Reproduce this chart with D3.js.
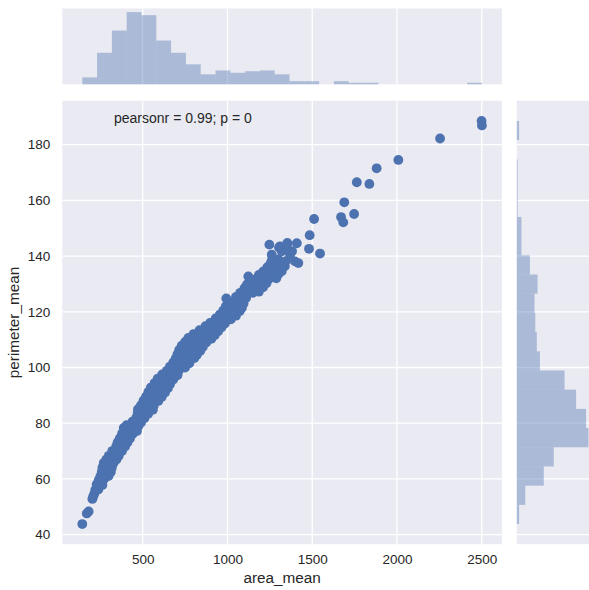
<!DOCTYPE html>
<html>
<head>
<meta charset="utf-8">
<script src="https://cdn.jsdelivr.net/npm/d3@7"></script>
<style>
  html, body { margin: 0; padding: 0; background: #ffffff; }
  svg { display: block; font-family: "Liberation Sans", Arial, Helvetica, sans-serif; }
</style>
</head>
<body>
<svg id="chart" width="589" height="590"></svg>
<script>
// Tumour measurements: mean area vs mean perimeter
const areaMean = [
  143.5, 170, 181, 203, 208, 214,
  220, 238, 228, 255, 262, 240, 270,
  250, 275, 298, 258, 285, 312,
  262, 290, 318, 270, 300, 328,
  285, 315, 345, 300, 330, 358,
  320, 350, 378, 344, 370, 396,
  352, 380, 410, 365, 395, 425,
  378, 405, 440, 388, 420, 455, 466,
  405, 440, 475, 440, 465, 490,
  462, 485, 510, 470, 500, 532,
  472, 505, 540, 560, 490, 525, 565,
  505, 540, 575, 592, 520, 555, 590, 612,
  533, 565, 600, 632, 548, 585, 620, 648,
  570, 605, 640, 661, 588, 620, 655, 680,
  615, 648, 685, 705, 642, 675, 712,
  660, 695, 730, 750, 680, 715, 752, 775,
  695, 730, 770, 805, 705, 740, 780, 820,
  715, 755, 795, 840, 730, 770, 810, 855,
  750, 785, 830, 875, 769, 810, 850, 905,
  800, 845, 885, 925, 835, 875, 915, 945,
  870, 905, 940, 965, 897, 925, 960, 985,
  930, 960, 995, 1020, 955, 990, 1030, 1050,
  975, 1010, 1045, 1072, 990, 1025, 1060, 1085,
  993, 1040, 1070, 1095, 1050, 1085, 1110,
  1075, 1110, 1150, 1185, 1100, 1135, 1175, 1210,
  1115, 1150, 1190, 1230, 1123, 1160, 1200, 1245, 1288,
  1185, 1225, 1265, 1300, 1211, 1250, 1290, 1320,
  1235, 1275, 1310, 1338, 1255, 1295, 1330, 1261, 1300, 1345,
  1261, 1320, 1369, 1381, 1398, 1418,
  1247, 1304, 1310, 1350, 1353, 1409,
  1485, 1481, 1546, 1511, 1670, 1683, 1747, 1689,
  1763, 1837, 1880, 2008, 2254, 2499, 2501
];
const perimeterMean = [
  43.8, 47.6, 48.3, 52.8, 53.7, 54.6,
  56.0, 56.2, 58.0, 58.2, 57.8, 59.5, 59.8,
  61.0, 61.2, 61.0, 62.5, 62.8, 62.5,
  64.0, 64.2, 64.0, 65.7, 65.5, 65.7,
  67.0, 67.2, 67.0, 68.3, 68.5, 68.2,
  70.0, 69.8, 70.0, 71.7, 71.5, 71.6,
  73.2, 73.0, 73.1, 74.6, 74.8, 74.5,
  76.2, 76.0, 76.1, 78.3, 77.8, 77.6, 77.2,
  79.3, 79.5, 79.0, 80.6, 80.8, 80.2,
  82.0, 82.3, 81.8, 83.7, 83.5, 83.4,
  85.0, 85.3, 85.0, 84.8, 86.5, 86.7, 86.3,
  88.2, 88.0, 88.4, 88.0, 89.6, 89.8, 89.5, 89.4,
  91.2, 91.0, 91.3, 91.0, 92.8, 92.6, 92.9, 92.5,
  94.4, 94.2, 94.5, 94.0, 96.0, 95.8, 96.1, 95.7,
  97.5, 97.6, 97.4, 97.2, 98.8, 99.0, 98.7,
  100.3, 100.5, 100.2, 100.0, 101.8, 102.0, 101.7, 101.5,
  103.3, 103.5, 103.2, 103.4, 104.8, 105.0, 104.7, 104.6,
  106.3, 106.4, 106.2, 106.0, 107.8, 107.6, 107.9, 107.4,
  109.2, 109.4, 109.1, 109.0, 110.6, 110.4, 110.7, 110.3,
  112.0, 112.2, 111.9, 111.6, 113.4, 113.6, 113.2, 113.0,
  114.8, 115.0, 114.6, 114.4, 116.0, 116.3, 116.1, 115.8,
  117.6, 117.8, 117.5, 117.3, 119.0, 119.2, 118.9, 118.6,
  120.5, 120.6, 120.3, 120.2, 122.0, 122.2, 121.8, 121.4,
  124.8, 123.6, 123.4, 123.0, 125.3, 125.5, 125.0,
  126.8, 127.0, 126.8, 127.2, 128.5, 128.3, 128.6, 128.8,
  129.8, 130.0, 129.9, 130.2, 132.7, 131.5, 131.6, 131.8, 132.0,
  133.2, 133.0, 133.4, 133.5, 134.5, 134.8, 134.6, 134.5,
  136.0, 136.2, 136.0, 136.3, 137.4, 137.5, 137.2, 138.3, 138.8, 138.2,
  140.5, 141.7, 140.5, 141.7, 138.1, 137.5,
  144.1, 143.1, 143.5, 143.5, 144.7, 144.6,
  147.5, 142.6, 140.9, 153.3, 154.0, 152.1, 155.1, 159.3,
  166.5, 165.9, 171.5, 174.5, 182.2, 188.5, 186.9
];

// Marginal histogram counts (equal-width bins spanning each variable's range)
const areaHistCounts = [9, 41, 70, 94, 90, 57, 41, 26, 13, 18, 15, 17, 18, 13,
                        4, 4, 0, 4, 2, 2, 0, 0, 0, 0, 0, 0, 2];
const perimeterHistCounts = [3, 11, 35, 48, 93, 90, 77, 62, 30, 26, 24, 23, 27, 17,
                             6, 6, 1, 1, 1, 0, 3];

const areaTicks = [500, 1000, 1500, 2000, 2500];
const perimeterTicks = [40, 60, 80, 100, 120, 140, 160, 180];
const xLabel = "area_mean";
const yLabel = "perimeter_mean";
const statText = "pearsonr = 0.99; p = 0";

const BLUE = "#4C72B0";
const PANEL = "#EAEAF2";
const TEXT = "#262626";

const svg = d3.select("#chart");
svg.append("rect").attr("width", 589).attr("height", 590).attr("fill", "#ffffff");

// Panel geometry
const mainBox = { left: 62.3, right: 501.9, top: 100.8, bottom: 544.2 };
const topBox = { top: 8.5, bottom: 84.3 };
const sideBox = { left: 516.8, right: 592 };

// Axis limits: data range padded by 5% on each side
function padded(values) {
  const [lo, hi] = d3.extent(values);
  const m = (hi - lo) * 0.05;
  return [lo - m, hi + m];
}
const x = d3.scaleLinear().domain(padded(areaMean)).range([mainBox.left, mainBox.right]);
const y = d3.scaleLinear().domain(padded(perimeterMean)).range([mainBox.bottom, mainBox.top]);

function binEdges(values, n) {
  const [lo, hi] = d3.extent(values);
  return d3.range(n + 1).map(i => lo + (hi - lo) * i / n);
}
const areaEdges = binEdges(areaMean, areaHistCounts.length);
const perimEdges = binEdges(perimeterMean, perimeterHistCounts.length);

const topCount = d3.scaleLinear().domain([0, d3.max(areaHistCounts) * 1.05]).range([topBox.bottom, topBox.top]);
const sideCount = d3.scaleLinear().domain([0, d3.max(perimeterHistCounts) * 1.05]).range([sideBox.left, sideBox.right]);

// Panel backgrounds
svg.append("rect").attr("x", mainBox.left).attr("y", mainBox.top)
  .attr("width", mainBox.right - mainBox.left).attr("height", mainBox.bottom - mainBox.top).attr("fill", PANEL);
svg.append("rect").attr("x", mainBox.left).attr("y", topBox.top)
  .attr("width", mainBox.right - mainBox.left).attr("height", topBox.bottom - topBox.top).attr("fill", PANEL);
svg.append("rect").attr("x", sideBox.left).attr("y", mainBox.top)
  .attr("width", sideBox.right - sideBox.left).attr("height", mainBox.bottom - mainBox.top).attr("fill", PANEL);

// Grid lines
const grid = svg.append("g").attr("stroke", "#ffffff").attr("stroke-width", 1.3);
grid.append("g").selectAll("line").data(areaTicks).join("line")
  .attr("x1", d => x(d)).attr("x2", d => x(d)).attr("y1", mainBox.top).attr("y2", mainBox.bottom);
grid.append("g").selectAll("line").data(areaTicks).join("line")
  .attr("x1", d => x(d)).attr("x2", d => x(d)).attr("y1", topBox.top).attr("y2", topBox.bottom);
grid.append("g").selectAll("line").data(perimeterTicks).join("line")
  .attr("x1", mainBox.left).attr("x2", mainBox.right).attr("y1", d => y(d)).attr("y2", d => y(d));
grid.append("g").selectAll("line").data(perimeterTicks).join("line")
  .attr("x1", sideBox.left).attr("x2", sideBox.right).attr("y1", d => y(d)).attr("y2", d => y(d));

// Top marginal histogram (area_mean)
svg.append("g").attr("fill", BLUE).attr("fill-opacity", 0.4)
  .selectAll("rect").data(areaHistCounts).join("rect")
  .attr("x", (d, i) => x(areaEdges[i]))
  .attr("width", (d, i) => x(areaEdges[i + 1]) - x(areaEdges[i]))
  .attr("y", d => topCount(d))
  .attr("height", d => topBox.bottom - topCount(d));

// Right marginal histogram (perimeter_mean)
svg.append("g").attr("fill", BLUE).attr("fill-opacity", 0.4)
  .selectAll("rect").data(perimeterHistCounts).join("rect")
  .attr("x", sideBox.left)
  .attr("width", d => sideCount(d) - sideBox.left)
  .attr("y", (d, i) => y(perimEdges[i + 1]))
  .attr("height", (d, i) => y(perimEdges[i]) - y(perimEdges[i + 1]));

// Scatter
svg.append("g").attr("fill", BLUE)
  .selectAll("circle").data(areaMean).join("circle")
  .attr("cx", d => x(d))
  .attr("cy", (d, i) => y(perimeterMean[i]))
  .attr("r", 4.9);

// Axes (tick labels only)
const xAxis = svg.append("g").attr("transform", `translate(0,${mainBox.bottom})`)
  .call(d3.axisBottom(x).tickValues(areaTicks).tickSize(0).tickPadding(10.5).tickFormat(d3.format("d")));
const yAxis = svg.append("g").attr("transform", `translate(${mainBox.left},0)`)
  .call(d3.axisLeft(y).tickValues(perimeterTicks).tickSize(0).tickPadding(12).tickFormat(d3.format("d")));
[xAxis, yAxis].forEach(a => {
  a.select(".domain").remove();
  a.selectAll("text").attr("fill", TEXT).style("font-size", "13.5px")
    .style("font-family", "\"Liberation Sans\", Arial, sans-serif");
});

// Axis labels
svg.append("text").attr("x", (mainBox.left + mainBox.right) / 2).attr("y", 583)
  .attr("text-anchor", "middle").attr("fill", TEXT).style("font-size", "15.3px").text(xLabel);
svg.append("text").attr("transform", `translate(19,${(mainBox.top + mainBox.bottom) / 2}) rotate(-90)`)
  .attr("text-anchor", "middle").attr("fill", TEXT).style("font-size", "15.3px").text(yLabel);

// Correlation annotation
svg.append("text").attr("x", 114).attr("y", 123).attr("fill", TEXT)
  .style("font-size", "14px").text(statText);
</script>
</body>
</html>
